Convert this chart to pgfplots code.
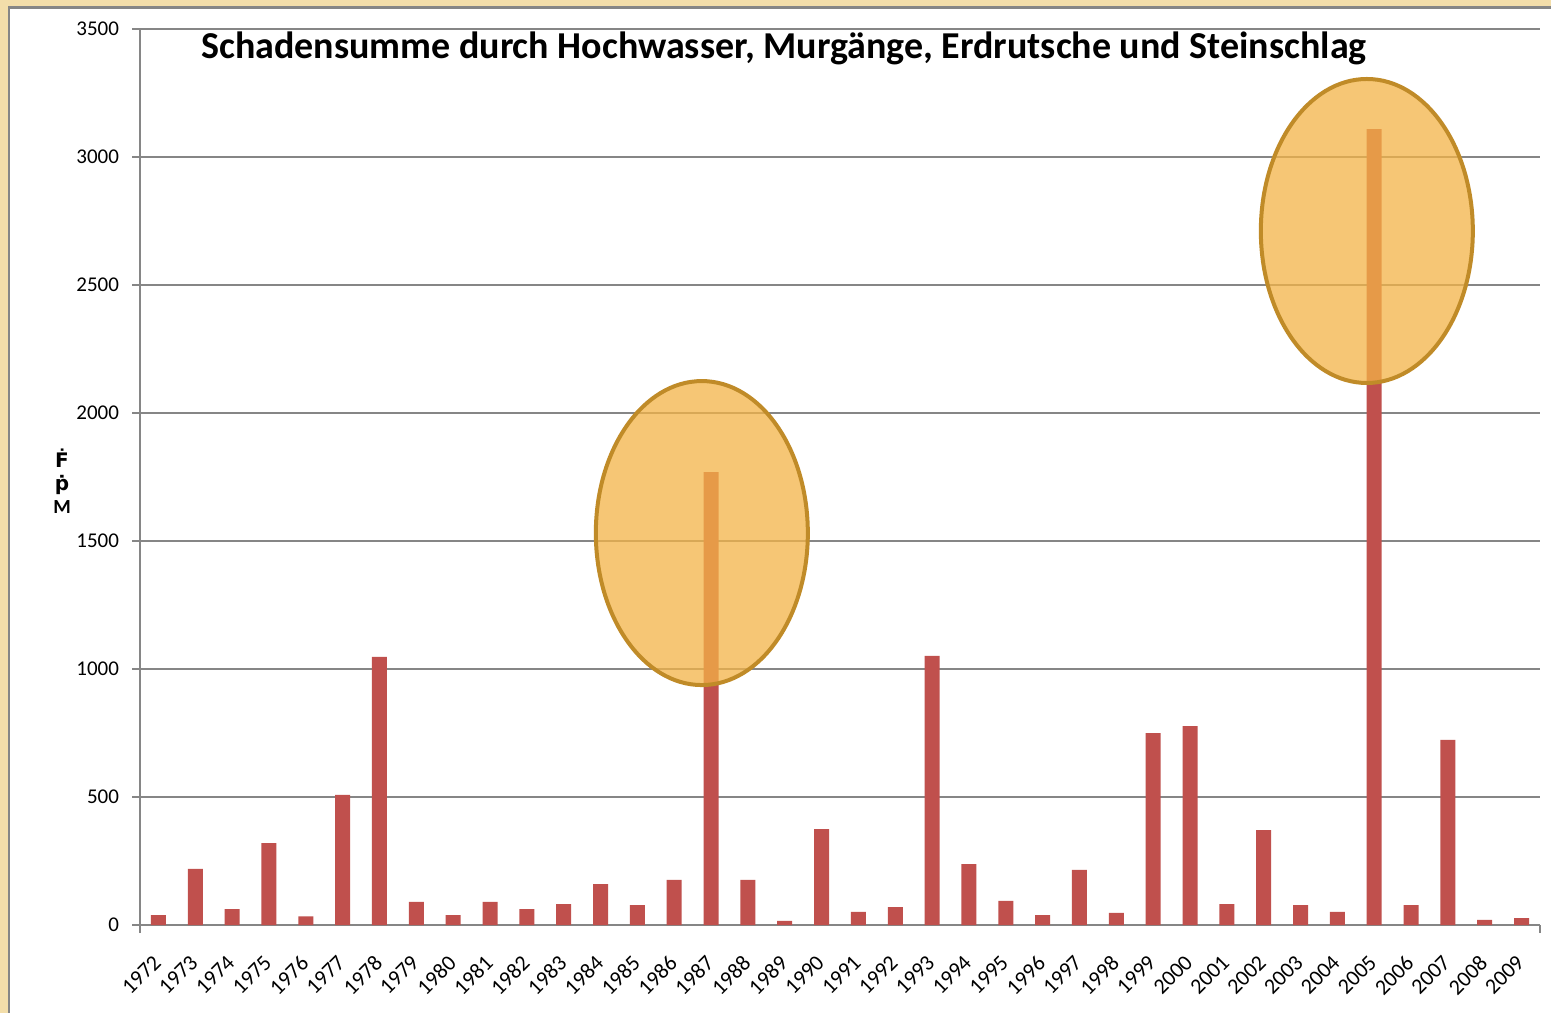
\documentclass[border=0pt]{standalone}
\usepackage{pgfplots}
\pgfplotsset{compat=1.18}
\usepackage{fontspec}
\setmainfont{Carlito}
\newfontfamily\dejavu{DejaVu Sans}
\definecolor{barred}{RGB}{192,80,77}
\definecolor{gridgray}{RGB}{134,134,134}
\definecolor{parch}{RGB}{243,222,170}
\definecolor{ellfill}{RGB}{244,180,71}
\definecolor{ellline}{RGB}{192,139,40}
\begin{document}
\begin{tikzpicture}
\useasboundingbox (-70bp,-44bp) rectangle (705.5bp,462.5bp);
\fill[parch] (-70bp,-44bp) rectangle (705.5bp,462.5bp);
\fill[white, draw=gridgray, line width=1.2bp] (-65.5bp,-60bp) rectangle (720bp,458.8bp);
\begin{axis}[
  scale only axis, width=700bp, height=448bp,
  at={(0,0)}, anchor=south west,
  xmin=1971.5, xmax=2009.5, ymin=0, ymax=3500,
  xtick={1972,...,2009}, ytick={0,500,...,3500},
  minor x tick num=1,
  extra x ticks={1971.5,2009.5}, extra x tick labels={},
  extra x tick style={major x tick style={draw=gridgray, line width=1.3bp}},
  axis lines*=left,
  axis line style={draw=gridgray, line width=1.3bp},
  tick align=outside, major tick length=4bp, minor tick length=4bp,
  major x tick style={draw=none},
  minor x tick style={draw=gridgray, line width=1.3bp},
  major y tick style={draw=gridgray, line width=1.3bp},
  ymajorgrids, grid style={draw=gridgray, line width=1.3bp},
  /pgf/number format/assume math mode=true,
  /pgf/number format/1000 sep={},
  xticklabel style={rotate=45, anchor=north east, font=\fontsize{11bp}{13bp}\selectfont, inner sep=1bp, xshift=-8.5bp, yshift=-4bp},
  yticklabel style={font=\fontsize{10.5bp}{12bp}\selectfont, xshift=-3bp},
  clip=false,
]
\addplot[ybar, bar width=7.5bp, fill=barred, draw=none] coordinates {
(1972,39) (1973,219) (1974,62) (1975,320) (1976,34) (1977,508) (1978,1047)
(1979,90) (1980,39) (1981,90) (1982,62) (1983,82) (1984,160) (1985,78)
(1986,176) (1987,1769) (1988,176) (1989,16) (1990,375) (1991,51) (1992,70)
(1993,1051) (1994,238) (1995,94) (1996,39) (1997,215) (1998,47) (1999,750)
(2000,777) (2001,82) (2002,371) (2003,78) (2004,51) (2005,3109) (2006,78)
(2007,723) (2008,20) (2009,27)
};
\draw[ellline, line width=2bp, fill=ellfill, fill opacity=0.75] (axis cs:1986.75,1531) ellipse [x radius=53bp, y radius=76bp];
\draw[ellline, line width=2bp, fill=ellfill, fill opacity=0.75] (axis cs:2004.8,2711) ellipse [x radius=53bp, y radius=76bp];
\node[font=\bfseries\fontsize{19bp}{22bp}\selectfont] at (rel axis cs:0.46,0.978) {Schadensumme durch Hochwasser, Murgänge, Erdrutsche und Steinschlag};
\end{axis}
\node[align=center, font=\bfseries\fontsize{10bp}{11.5bp}\selectfont] at (-39bp,222bp) {{\dejavu\bfseries Ḟ}\\{\dejavu\bfseries ṗ}\\M};
\end{tikzpicture}
\end{document}
